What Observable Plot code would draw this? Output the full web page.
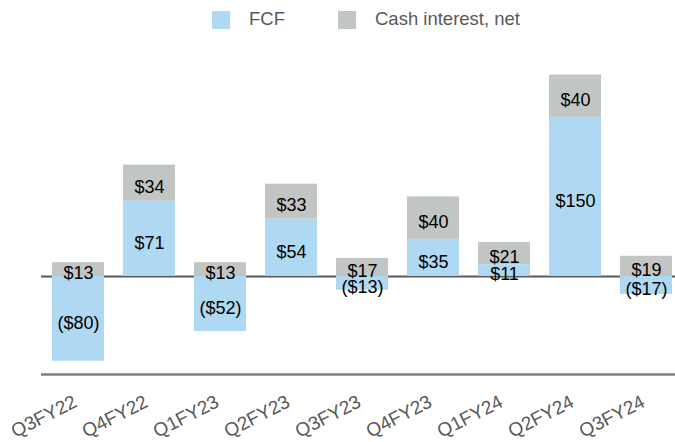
<!DOCTYPE html>
<html>
<head>
<meta charset="utf-8">
<script src="https://cdn.jsdelivr.net/npm/d3@7"></script>
<script src="https://cdn.jsdelivr.net/npm/@observablehq/plot@0.6"></script>
<style>
  html, body { margin: 0; padding: 0; background: #fff; }
  body { width: 675px; height: 442px; overflow: hidden; font-family: "Liberation Sans", Arial, sans-serif; }
  #legend { position: relative; height: 40px; width: 675px; }
  .sw { position: absolute; top: 11px; width: 18px; height: 18px; }
  .lt { position: absolute; top: 8px; font-size: 18.5px; color: #595959; line-height: 22px; }
  svg { display: block; }
</style>
</head>
<body>
<div id="legend">
  <div class="sw" style="left:212px;background:#AFD8F2"></div>
  <div class="lt" style="left:249px">FCF</div>
  <div class="sw" style="left:338px;background:#C1C5C4"></div>
  <div class="lt" style="left:375px">Cash interest, net</div>
</div>
<div id="chart"></div>
<script>
const quarters = ["Q3FY22","Q4FY22","Q1FY23","Q2FY23","Q3FY23","Q4FY23","Q1FY24","Q2FY24","Q3FY24"];
const fcf = [-80, 71, -52, 54, -13, 35, 11, 150, -17];
const interest = [13, 34, 13, 33, 17, 40, 21, 40, 19];
const series = ["FCF", "Cash interest, net"];
const colors = ["#AFD8F2", "#C1C5C4"];

const rows = [];
quarters.forEach((q, i) => {
  rows.push({q, series: series[0], value: fcf[i]});
  rows.push({q, series: series[1], value: interest[i]});
});
const fmt = v => v < 0 ? `($${Math.abs(v)})` : `$${v}`;

const chart = Plot.plot({
  width: 675,
  height: 402,
  marginLeft: 41,
  marginRight: 0,
  marginTop: 0,
  marginBottom: 68,
  x: {domain: quarters, range: [41, 683], paddingInner: 0.27, paddingOuter: 0.14, label: null},
  y: {domain: [-92.5, 190], range: [334, 34.5], axis: null},
  color: {domain: series, range: colors},
  style: {fontFamily: "'Liberation Sans', Arial, sans-serif", background: "white"},
  marks: [
    Plot.ruleY([0], {stroke: "#595959", strokeWidth: 2}),
    Plot.barY(rows, Plot.stackY({x: "q", y: "value", fill: "series", z: "series", order: series})),
    Plot.ruleY([-92.5], {stroke: "#808080", strokeWidth: 2.5}),
    Plot.text(rows, Plot.stackY({x: "q", y: "value", z: "series", order: series, text: d => fmt(d.value), fontSize: 18, fill: "black", dy: 4})),
    Plot.axisX({tickRotate: -27, tickSize: 0, tickPadding: 26, fontSize: 19, dx: -3, color: "#595959"})
  ]
});
document.getElementById("chart").appendChild(chart);
</script>
</body>
</html>
